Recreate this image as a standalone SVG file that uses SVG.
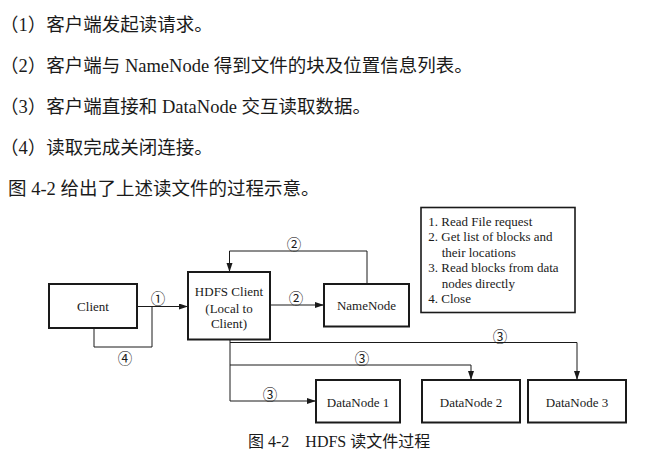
<svg xmlns="http://www.w3.org/2000/svg" width="651" height="466" viewBox="0 0 651 466">
<defs>
<style>
.body{font-family:"Liberation Serif","Noto Sans CJK SC",serif;font-size:18.5px;fill:#1a1a1a}
.cap{font-family:"Liberation Serif","Noto Sans CJK SC",serif;font-size:16px;fill:#1a1a1a}
.lbl{font-family:"Liberation Serif",serif;font-size:13px;fill:#1a1a1a;text-anchor:middle}
.leg{font-family:"Liberation Serif",serif;font-size:13px;fill:#1a1a1a}
.num{font-family:"Noto Sans CJK SC","DejaVu Sans",sans-serif;font-size:14.5px;fill:#1a1a1a;text-anchor:middle;dominant-baseline:central}
.box{fill:#fff;stroke:#1a1a1a;stroke-width:2}
.legbox{fill:#fff;stroke:#1a1a1a;stroke-width:1.6}
.ln{fill:none;stroke:#1a1a1a;stroke-width:1}
</style>
<marker id="arr" markerUnits="userSpaceOnUse" markerWidth="10" markerHeight="8" refX="9" refY="3" orient="auto">
<path d="M0,0 L9,3 L0,6 Z" fill="#1a1a1a"/>
</marker>
</defs>
<rect width="651" height="466" fill="#fff"/>
<g id="text">
<text class="body" x="0" y="31">（1）客户端发起读请求。</text>
<text class="body" x="0" y="72">（2）客户端与 NameNode 得到文件的块及位置信息列表。</text>
<text class="body" x="0" y="113">（3）客户端直接和 DataNode 交互读取数据。</text>
<text class="body" x="0" y="154">（4）读取完成关闭连接。</text>
<text class="body" x="8" y="195">图 4-2 给出了上述读文件的过程示意。</text>
<text class="cap" x="248" y="447">图 4-2　HDFS 读文件过程</text>
</g>
<g id="connectors">
<path class="ln" d="M137,306.5 H188" marker-end="url(#arr)"/>
<path class="ln" d="M152,306.5 V347 H94 V328"/>
<path class="ln" d="M270,305 H324" marker-end="url(#arr)"/>
<path class="ln" d="M367,284 V251 H229.5 V272" marker-end="url(#arr)"/>
<path class="ln" d="M230,339.5 V401 H316" marker-end="url(#arr)"/>
<path class="ln" d="M230,342.5 H577 V380" marker-end="url(#arr)"/>
<path class="ln" d="M230,365 H471 V380" marker-end="url(#arr)"/>
<text class="num" x="158" y="297">①</text>
<text class="num" x="125" y="357">④</text>
<text class="num" x="296" y="297">②</text>
<text class="num" x="294" y="243">②</text>
<text class="num" x="500" y="335">③</text>
<text class="num" x="362" y="357">③</text>
<text class="num" x="270" y="393">③</text>
</g>
<g id="client">
<rect class="box" x="49" y="284" width="88" height="44"/>
<text class="lbl" x="93" y="311">Client</text>
</g>
<g id="hdfsclient">
<rect class="box" x="188" y="272" width="82" height="67.5"/>
<text class="lbl" x="229" y="296">HDFS Client</text>
<text class="lbl" x="229" y="312.5">(Local to</text>
<text class="lbl" x="229" y="328">Client)</text>
</g>
<g id="namenode">
<rect class="box" x="324" y="284" width="85" height="42.5"/>
<text class="lbl" x="366.5" y="310">NameNode</text>
</g>
<g id="legend">
<rect class="legbox" x="421" y="207.5" width="154" height="105"/>
<text class="leg" x="428.3" y="225.5">1. Read File request</text>
<text class="leg" x="428.3" y="241">2. Get list of blocks and</text>
<text class="leg" x="441.7" y="256.5">their locations</text>
<text class="leg" x="428.3" y="272">3. Read blocks from data</text>
<text class="leg" x="441.7" y="287.5">nodes directly</text>
<text class="leg" x="428.3" y="303">4. Close</text>
</g>
<g id="datanode1">
<rect class="box" x="316" y="380" width="84" height="42.5"/>
<text class="lbl" x="358" y="407">DataNode 1</text>
</g>
<g id="datanode2">
<rect class="box" x="422" y="380" width="98" height="42.5"/>
<text class="lbl" x="471" y="407">DataNode 2</text>
</g>
<g id="datanode3">
<rect class="box" x="528" y="380" width="98" height="42.5"/>
<text class="lbl" x="577" y="407">DataNode 3</text>
</g>
</svg>
